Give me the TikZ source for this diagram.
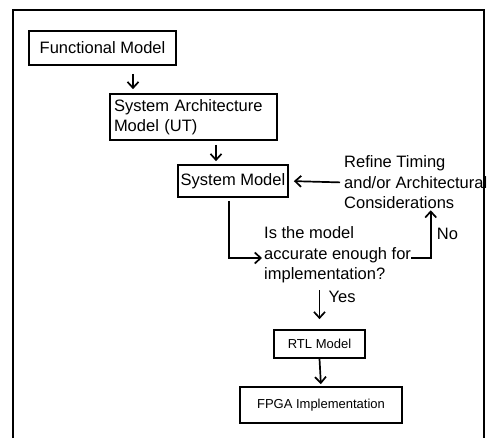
\documentclass[tikz,border=0pt]{standalone}
\usepackage{fontspec}
\setmainfont{Liberation Sans}
\usetikzlibrary{arrows.meta,positioning}

\begin{document}
\begin{tikzpicture}
    [x=1pt,y=-1pt,
     box/.style={draw=black,line width=1.7pt,inner sep=2pt,font=\fontsize{16.5}{20}\selectfont},
     smallbox/.style={draw=black,line width=1.7pt,inner sep=2pt,font=\fontsize{13}{16}\selectfont},
     txt/.style={align=left,inner sep=0pt,font=\fontsize{16.5}{20.5}\selectfont},
     arr/.style={-{Straight Barb[length=6pt,width=11pt]},line width=1.7pt}]
    \useasboundingbox (0,0) rectangle (494,438);
    % outer frame
    \draw [line width=1.7pt] (13,438) -- (13,10) -- (484,10) -- (484,438);
    \node [box,minimum width=147pt,minimum height=34pt] (func) at (102.5,48) {Functional Model};
    \node [box,minimum width=167pt,minimum height=46pt,align=left,text width=159pt] (arch) at (193.5,117) {System Architecture\\Model (UT)};
    \node [box,minimum width=110pt,minimum height=32pt] (sysm) at (233,181) {System Model};
    \node [txt,anchor=west] (refine) at (344,182.5) {Refine Timing\\and/or Architectural\\Considerations};
    \node [txt,anchor=west] (quest) at (264,255) {Is the model\\accurate enough for\\implementation?};
    \node [smallbox,minimum width=91pt,minimum height=28pt] (rtl) at (319.5,344) {RTL Model};
    \node [smallbox,minimum width=162pt,minimum height=36pt] (fpga) at (321,405) {FPGA Implementation};
    \draw [arr,shorten <=8pt,shorten >=4pt] ([xshift=30.5pt]func.south) -- ([xshift=-60.5pt]arch.north);
    \draw [arr,shorten <=4pt,shorten >=3pt] ([xshift=22.5pt]arch.south) -- ([xshift=-17pt]sysm.north);
    \draw [arr,shorten <=4pt,shorten >=5pt] (refine.west) -- (sysm.east);
    \draw [arr,shorten <=3pt,shorten >=2pt] ([xshift=-4pt]sysm.south) |- ([yshift=-3pt]quest.west);
    \draw [arr,shorten >=1pt] ([yshift=-3pt]quest.east) -| ([xshift=15pt]refine.south)
      node [pos=0.75,right=2pt,font=\fontsize{16.5}{20}\selectfont] {No};
    \draw [arr,shorten <=7pt,shorten >=10pt] (quest.south -| rtl.north) -- (rtl.north)
      node [pos=0.3,right=5pt,font=\fontsize{16.5}{20}\selectfont] {Yes};
    \draw [arr,shorten >=2pt] (rtl.south) -- (fpga.north);
\end{tikzpicture}
\end{document}
